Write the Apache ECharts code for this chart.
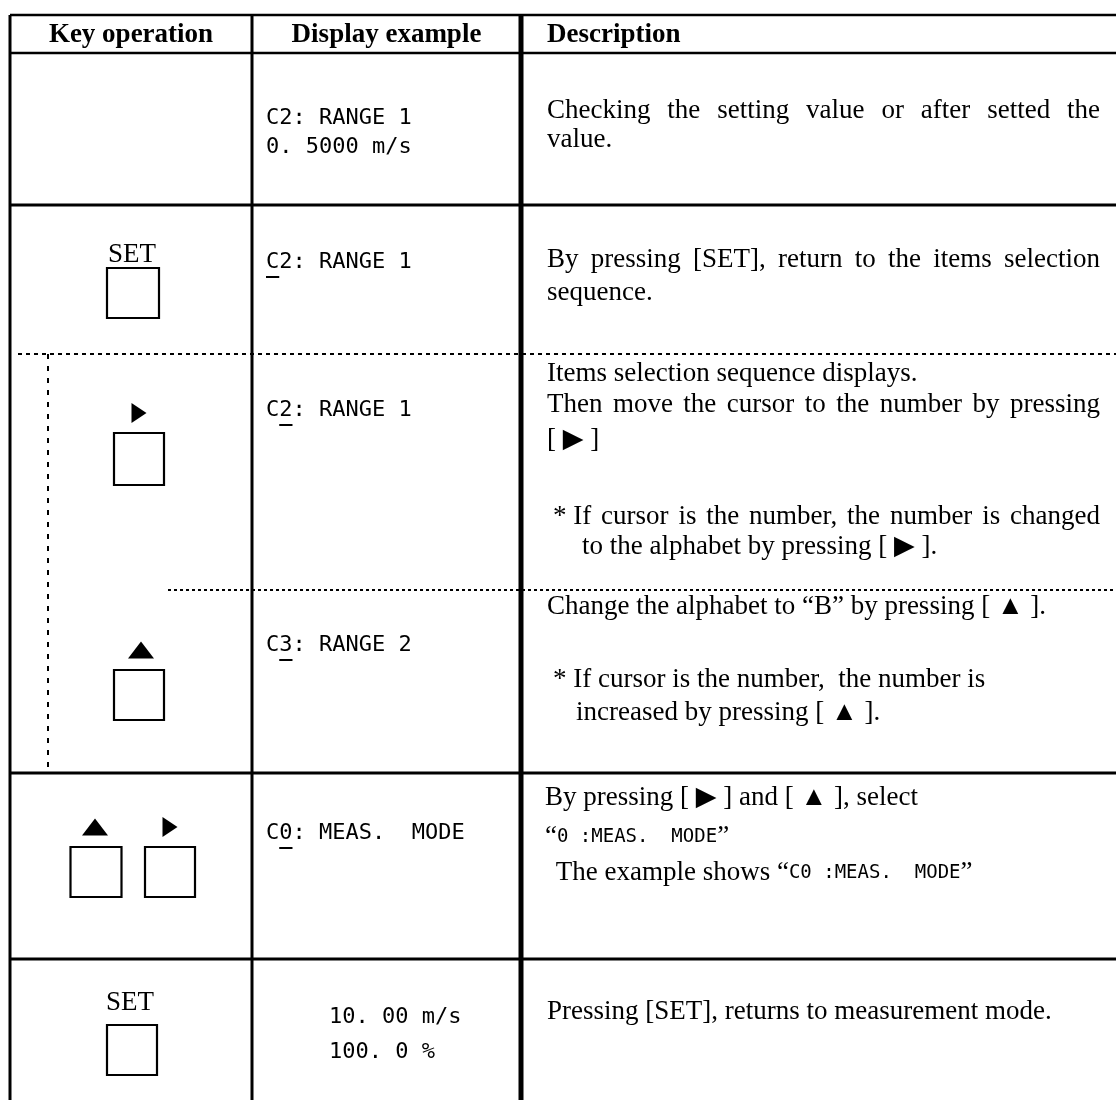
<!DOCTYPE html>
<html><head><meta charset="utf-8">
<script src="https://cdn.jsdelivr.net/npm/echarts@6.0.0/dist/echarts.min.js"></script>
<style>html,body{margin:0;padding:0;background:#fff;}#chart{width:1116px;height:1100px;}</style>
</head><body><div id="chart"></div>
<script>
// ---------------- data (table content) ----------------
const headers = ['Key operation', 'Display example', 'Description'];
const keyCaps = [[], ['SET'], ['▶'], ['▲'], ['▲', '▶'], ['SET']];
const displayLines = [
  ['C2: RANGE 1', '0. 5000 m/s'],
  ['C2: RANGE 1'],
  ['C2: RANGE 1'],
  ['C3: RANGE 2'],
  ['C0: MEAS.  MODE'],
  ['10. 00 m/s', '100. 0 %']
];
const cursorIndex = [-1, 0, 1, 1, 1, -1];
const descLines = [
  ['Checking the setting value or after setted the', 'value.'],
  ['By pressing [SET], return to the items selection', 'sequence.'],
  ['Items selection sequence displays.', 'Then move the cursor to the number by pressing', '[ ▶ ]',
   '* If cursor is the number,  the number is changed', 'to the alphabet by pressing [ ▶ ].'],
  ['Change the alphabet to “B” by pressing [ ▲ ].', '* If cursor is the number,  the number is',
   'increased by pressing [ ▲ ].'],
  ['By pressing [ ▶ ] and [ ▲ ], select', '“{m|0 :MEAS.  MODE}”', ' The example shows “{m|C0 :MEAS.  MODE}”'],
  ['Pressing [SET], returns to measurement mode.']
];
const justifiedLines = [[0, 0], [1, 0], [2, 1], [2, 3]];

// ---------------- layout ----------------
const W = 1116, H = 1100;
const colX = [10, 252, 521];
const topY = 15, headY = 53;
const rowBounds = [205, 354, 590, 773, 959];
const headerTextY = 35;
const displayX = [266, 266, 266, 266, 266, 329];
const displayY = [[118, 147], [262], [410], [645], [833], [1017, 1052]];
const descPos = [
  [[547, 111], [547, 140]],
  [[547, 260], [547, 293]],
  [[547, 374], [547, 405], [547, 440], [553, 517], [582, 547]],
  [[547, 607], [553, 680], [576, 713]],
  [[545, 798], [545, 837], [549, 873]],
  [[547, 1012]]
];
const justifyEndX = 1100;
// key cap positions (label / triangle) and boxes per row
const capPos = [[], [[132, 255]], [[139, 413]], [[141, 650]], [[95, 827], [170, 827]], [[130, 1003]]];
const boxPos = [[], [[133, 293, 52, 50]], [[139, 459, 50, 52]], [[139, 695, 50, 50]],
  [[96, 872, 51, 50], [170, 872, 50, 50]], [[132, 1050, 50, 50]]];
const triSize = { '▶': [15, 20], '▲': [26, 17] };

const serifFamily = '"Liberation Serif","Times New Roman","DejaVu Serif",serif';
const monoFamily = '"DejaVu Sans Mono","Liberation Mono",monospace';
const FS = 27, MS = 22, IMS = 19;

const mctx = document.createElement('canvas').getContext('2d');
function textWidth(str, size, family, weight) {
  mctx.font = (weight || 'normal') + ' ' + size + 'px ' + family;
  return mctx.measureText(str).width;
}

// ---------------- build marks ----------------
const segs = [];
function seg(x1, y1, x2, y2, w, dash) { segs.push({ c: [x1, y1, x2, y2], w: w, dash: dash || null }); }
seg(colX[0], topY, W, topY, 2.5);
seg(colX[0], headY, W, headY, 2.5);
seg(colX[0], rowBounds[0], W, rowBounds[0], 3);
seg(18, rowBounds[1], W, rowBounds[1], 2, [4, 4]);
seg(168, rowBounds[2], W, rowBounds[2], 2, [3, 3]);
seg(colX[0], rowBounds[3], W, rowBounds[3], 3);
seg(colX[0], rowBounds[4], W, rowBounds[4], 3);
seg(colX[0], topY, colX[0], H, 3);
seg(colX[1], topY, colX[1], H, 3);
seg(colX[2], topY, colX[2], H, 5);
seg(48, rowBounds[1], 48, rowBounds[3], 2, [5, 7]);

const texts = [];
texts.push({ x: (colX[0] + colX[1]) / 2, y: headerTextY, text: headers[0], kind: 'bold', align: 'center' });
texts.push({ x: (colX[1] + colX[2]) / 2, y: headerTextY, text: headers[1], kind: 'bold', align: 'center' });
texts.push({ x: descPos[0][0][0], y: headerTextY, text: headers[2], kind: 'bold', align: 'left' });

const tris = [];
const boxes = [];
keyCaps.forEach((caps, r) => {
  caps.forEach((c, i) => {
    const p = capPos[r][i];
    if (triSize[c]) tris.push({ c: [p[0], p[1], triSize[c][0], triSize[c][1]], dir: c });
    else texts.push({ x: p[0], y: p[1], text: c, kind: 'serif', align: 'center' });
  });
  boxPos[r].forEach(b => boxes.push(b));
});

displayLines.forEach((lines, r) => {
  lines.forEach((t, i) => {
    const x = displayX[r], y = displayY[r][i];
    texts.push({ x: x, y: y, text: t, kind: 'mono', align: 'left' });
    if (i === 0 && cursorIndex[r] >= 0) {
      const c = cursorIndex[r];
      const pre = textWidth(t.slice(0, c), MS, monoFamily);
      const cw = textWidth(t[c], MS, monoFamily);
      seg(x + pre, y + 15, x + pre + cw, y + 15, 2);
    }
  });
});

function isJustified(r, i) { return justifiedLines.some(j => j[0] === r && j[1] === i); }
descLines.forEach((lines, r) => {
  lines.forEach((t, i) => {
    const p = descPos[r][i];
    if (isJustified(r, i)) {
      let toks = t.split(/\s+/);
      if (toks[0] === '*') { toks = ['* ' + toks[1]].concat(toks.slice(2)); }
      const ws = toks.map(w => textWidth(w, FS, serifFamily));
      const total = ws.reduce((a, b) => a + b, 0);
      const gap = (justifyEndX - p[0] - total) / (toks.length - 1);
      let x = p[0];
      toks.forEach((w, k) => {
        texts.push({ x: x, y: p[1], text: w, kind: 'serif', align: 'left' });
        x += ws[k] + gap;
      });
    } else {
      texts.push({ x: p[0], y: p[1], text: t, kind: 'serif', align: 'left' });
    }
  });
});

const kindStyle = {
  bold: { fontFamily: serifFamily, fontSize: FS, fontWeight: 'bold' },
  serif: { fontFamily: serifFamily, fontSize: FS, fontWeight: 'normal' },
  mono: { fontFamily: monoFamily, fontSize: MS, fontWeight: 'normal' }
};

const chart = echarts.init(document.getElementById('chart'), null, { renderer: 'canvas' });
chart.setOption({
  animation: false,
  backgroundColor: '#fff',
  grid: { left: 0, right: 0, top: 0, bottom: 0 },
  xAxis: { type: 'value', min: 0, max: W, show: false },
  yAxis: { type: 'value', min: 0, max: H, inverse: true, show: false },
  series: [
    {
      type: 'custom', name: 'rules', silent: true,
      data: segs.map(s => s.c), encode: { x: [0, 2], y: [1, 3] },
      renderItem(params, api) {
        const s = segs[params.dataIndex];
        const a = api.coord([api.value(0), api.value(1)]);
        const b = api.coord([api.value(2), api.value(3)]);
        return { type: 'line', shape: { x1: a[0], y1: a[1], x2: b[0], y2: b[1] },
          style: { stroke: '#000', lineWidth: s.w, lineDash: s.dash, lineCap: 'butt' } };
      }
    },
    {
      type: 'custom', name: 'keys', silent: true,
      data: boxes, encode: { x: 0, y: 1 },
      renderItem(params, api) {
        const c = api.coord([api.value(0), api.value(1)]);
        const s = api.size([api.value(2), api.value(3)]);
        return { type: 'rect', shape: { x: c[0] - s[0] / 2, y: c[1] - s[1] / 2, width: s[0], height: s[1] },
          style: { fill: '#fff', stroke: '#000', lineWidth: 2.2 } };
      }
    },
    {
      type: 'custom', name: 'arrows', silent: true,
      data: tris.map(t => t.c), encode: { x: 0, y: 1 },
      renderItem(params, api) {
        const t = tris[params.dataIndex];
        const c = api.coord([api.value(0), api.value(1)]);
        const s = api.size([api.value(2), api.value(3)]);
        const w = s[0] / 2, h = s[1] / 2;
        const pts = t.dir === '▶'
          ? [[c[0] - w, c[1] - h], [c[0] + w, c[1]], [c[0] - w, c[1] + h]]
          : [[c[0] - w, c[1] + h], [c[0], c[1] - h], [c[0] + w, c[1] + h]];
        return { type: 'polygon', shape: { points: pts }, style: { fill: '#000' } };
      }
    },
    {
      type: 'custom', name: 'texts', silent: true,
      data: texts.map(t => [t.x, t.y]), encode: { x: 0, y: 1 },
      renderItem(params, api) {
        const t = texts[params.dataIndex];
        const c = api.coord([api.value(0), api.value(1)]);
        const ks = kindStyle[t.kind];
        return { type: 'text', x: c[0], y: c[1],
          style: Object.assign({ text: t.text, fill: '#000', align: t.align, verticalAlign: 'middle',
            rich: { m: { fontFamily: monoFamily, fontSize: IMS, fill: '#000' } } }, ks) };
      }
    }
  ]
});
</script>
</body></html>
